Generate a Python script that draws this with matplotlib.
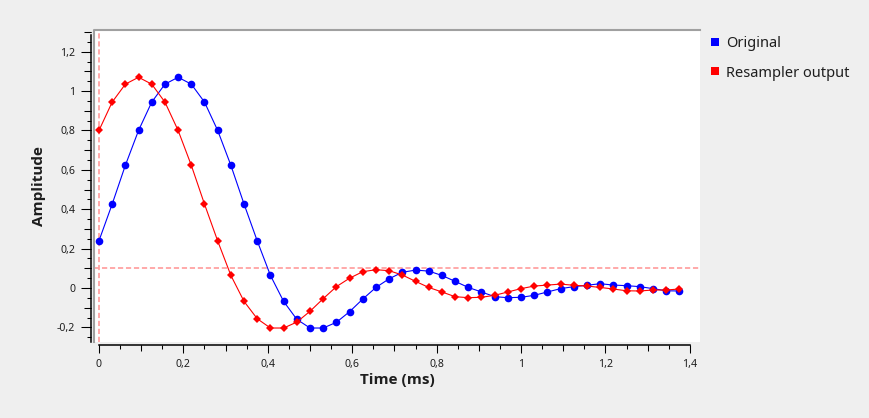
import matplotlib
matplotlib.use("Agg")
import matplotlib.pyplot as plt
from matplotlib.lines import Line2D
from matplotlib.ticker import MultipleLocator, FuncFormatter
import numpy as np

# signal echantillonne a 32 kHz -> un point tous les 1/32 ms
sample_rate_khz = 32

original = [0.24, 0.426, 0.623, 0.80, 0.944, 1.035, 1.07, 1.035, 0.944, 0.80,
            0.623, 0.426, 0.239, 0.064, -0.068, -0.159, -0.203, -0.203, -0.174, -0.12,
            -0.056, 0.003, 0.047, 0.08, 0.091, 0.086, 0.064, 0.034, 0.003, -0.02,
            -0.044, -0.049, -0.047, -0.037, -0.02, -0.003, 0.007, 0.014, 0.022, 0.015,
            0.012, 0.007, -0.003, -0.014, -0.015]

resampler = [0.80, 0.944, 1.035, 1.07, 1.035, 0.944, 0.80, 0.623, 0.426, 0.239,
             0.064, -0.068, -0.156, -0.203, -0.203, -0.173, -0.118, -0.054, 0.007, 0.05,
             0.083, 0.093, 0.088, 0.066, 0.034, 0.003, -0.02, -0.044, -0.049, -0.047,
             -0.037, -0.02, -0.003, 0.01, 0.015, 0.02, 0.014, 0.01, 0.003, -0.005,
             -0.014, -0.015, -0.01, -0.01, -0.005]

series_names = ["Original", "Resampler output"]
series_colors = ["#0000ff", "#ff0000"]

# lignes de trigger (pointilles roses)
trigger_time = 0.0
trigger_level = 0.1

plt.rcParams['font.family'] = ['Noto Sans', 'DejaVu Sans']

t_orig = np.arange(len(original)) / sample_rate_khz
t_res = np.arange(len(resampler)) / sample_rate_khz

W, H = 869, 418
PT = 0.72  # 1 px en points a 100 dpi

fig = plt.figure(figsize=(W / 100, H / 100), dpi=100, facecolor='#efefef')
ax = fig.add_axes([94 / W, 1 - 342 / H, 606 / W, 312 / H])
ax.set_facecolor('white')

ax.axvline(trigger_time, color='#ff9f9f', lw=1.25, dashes=(3, 1.6), zorder=1)
ax.axhline(trigger_level, color='#ff9f9f', lw=1.25, dashes=(3, 1.6), zorder=1)

ax.plot(t_orig, original, color=series_colors[0], lw=0.8, marker='o', ms=5.5, mew=0, zorder=3)
ax.plot(t_res, resampler, color=series_colors[1], lw=0.8, marker='D', ms=3.8, mew=0, zorder=4)

ax.set_xlim(-0.0118, 1.424)
ax.set_ylim(-0.274, 1.31)

# cadre gris du canvas (haut et gauche)
ax.plot([0, 0, 1], [0, 1, 1], transform=ax.transAxes, color='#a0a0a0', lw=1.5,
        clip_on=False, zorder=5)

for s in ['top', 'right']:
    ax.spines[s].set_visible(False)
ax.spines['left'].set_position(('outward', 3 * PT))
ax.spines['bottom'].set_position(('outward', 3 * PT))
ax.spines['left'].set_bounds(-0.274, 1.284)
ax.spines['bottom'].set_bounds(0, 1.4)
ax.spines['left'].set_linewidth(1.1)
ax.spines['bottom'].set_linewidth(1.1)


def virgule(v, pos):
    s = ('%.1f' % v).rstrip('0').rstrip('.')
    if s == '-0':
        s = '0'
    return s.replace('.', ',')


ax.xaxis.set_major_locator(MultipleLocator(0.2))
ax.xaxis.set_minor_locator(MultipleLocator(0.05))
ax.yaxis.set_major_locator(MultipleLocator(0.2))
ax.yaxis.set_minor_locator(MultipleLocator(0.05))
ax.xaxis.set_major_formatter(FuncFormatter(virgule))
ax.yaxis.set_major_formatter(FuncFormatter(virgule))

txt_col = '#1e1e1e'
ax.tick_params(axis='x', which='major', length=8 * PT, width=0.75, pad=4.5, labelsize=7.6, labelcolor=txt_col)
ax.tick_params(axis='x', which='minor', length=4 * PT, width=0.75)
ax.tick_params(axis='y', which='major', length=10 * PT, width=0.75, pad=4.3, labelsize=7.6, labelcolor=txt_col)
ax.tick_params(axis='y', which='minor', length=4.5 * PT, width=0.75)

# graduations moyennes (tous les 0,1)
secx = ax.secondary_xaxis('bottom')
secx.spines['bottom'].set_position(('outward', 3 * PT))
secx.spines['bottom'].set_visible(False)
secx.xaxis.set_major_locator(MultipleLocator(0.1))
secx.tick_params(axis='x', length=6 * PT, width=0.75, labelbottom=False)

secy = ax.secondary_yaxis('left')
secy.spines['left'].set_position(('outward', 3 * PT))
secy.spines['left'].set_visible(False)
secy.yaxis.set_major_locator(MultipleLocator(0.1))
secy.tick_params(axis='y', length=7 * PT, width=0.75, labelleft=False)

bold_font = dict(fontsize=11, fontweight='bold', color=txt_col, family=['Open Sans', 'DejaVu Sans'])
ax.set_xlabel('Time (ms)', **bold_font)
ax.set_ylabel('Amplitude', **bold_font)
ax.xaxis.set_label_coords(0.5, (342 - 380) / 312)
ax.xaxis.label.set_va('center')
ax.yaxis.set_label_coords((39 - 94) / 606, 0.5)
ax.yaxis.label.set_va('center')

handles = [Line2D([], [], ls='none', marker='s', ms=5.8, mew=0, color=c) for c in series_colors]
fig.legend(handles, series_names, loc='upper left', bbox_to_anchor=(709 / W, 1 - 36 / H),
           frameon=False, fontsize=10.5, handlelength=0.8, handletextpad=0.35,
           labelspacing=1.0, borderpad=0, borderaxespad=0, labelcolor=txt_col)

fig.savefig('out.png', dpi=100, facecolor=fig.get_facecolor())
